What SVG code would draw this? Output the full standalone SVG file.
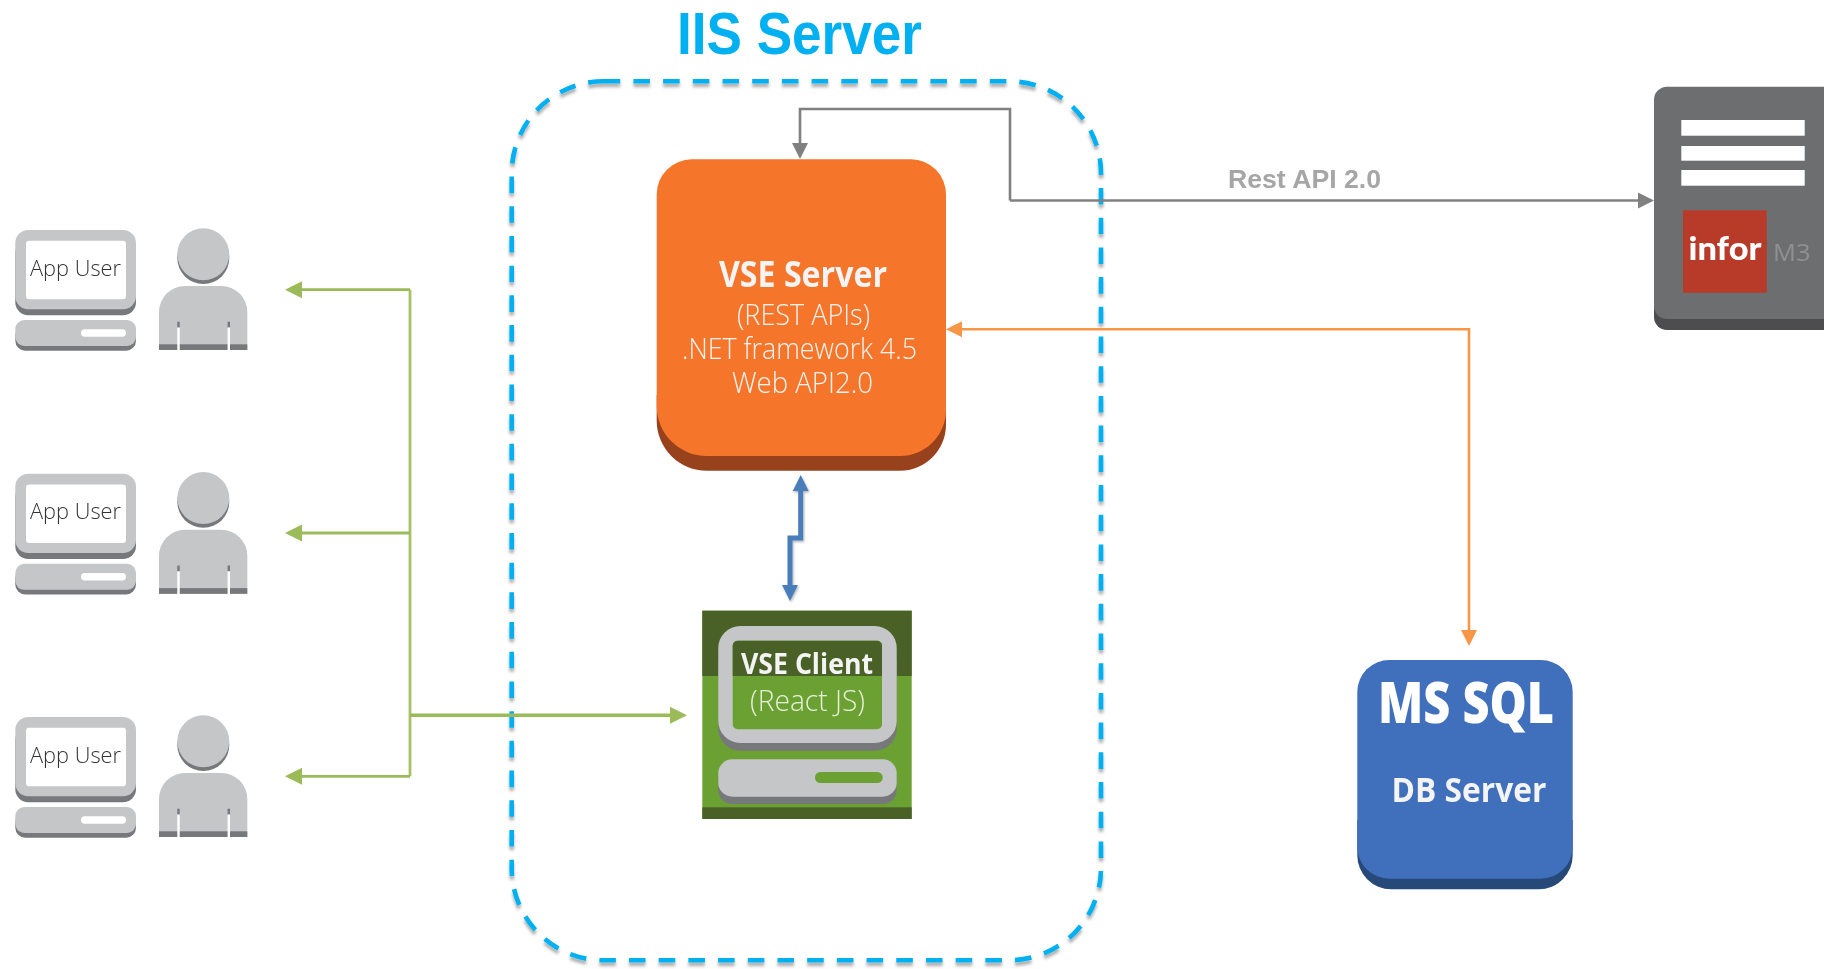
<svg xmlns="http://www.w3.org/2000/svg" xmlns:xlink="http://www.w3.org/1999/xlink" width="1824" height="969" viewBox="0 0 1824 969">
<style>
text{font-family:"Open Sans","Noto Sans",sans-serif;text-anchor:start}
.b{font-weight:700}
.l{font-weight:300}
.w{fill:#f4f4f4}
.conn{fill:none;stroke-linejoin:miter}
.pc{fill:#c5c6c8}
.sh{fill:#77787b}
.au{font-size:22.5px;font-weight:300;fill:#333}
</style>
<defs>
<filter id="soft" x="0" y="0" width="1824" height="969" filterUnits="userSpaceOnUse" primitiveUnits="userSpaceOnUse"><feGaussianBlur stdDeviation="0.55"/></filter>
<filter id="drop" x="-5%" y="-5%" width="110%" height="110%"><feDropShadow dx="0" dy="3.5" stdDeviation="1.6" flood-color="#000" flood-opacity="0.33"/></filter>
<filter id="drop2" x="760" y="460" width="70" height="160" filterUnits="userSpaceOnUse"><feDropShadow dx="1" dy="1.5" stdDeviation="1.2" flood-color="#000" flood-opacity="0.3"/></filter>
<marker id="ag" markerUnits="userSpaceOnUse" markerWidth="18" markerHeight="18" refX="2" refY="8.5" orient="auto"><path d="M0 0.5L16 8.5L0 16.5Z" fill="#808080"/></marker>
<marker id="ao" markerUnits="userSpaceOnUse" markerWidth="18" markerHeight="18" refX="2" refY="8.5" orient="auto-start-reverse"><path d="M0 0.5L16 8.5L0 16.5Z" fill="#f79646"/></marker>
<marker id="ab" markerUnits="userSpaceOnUse" markerWidth="18" markerHeight="20" refX="2" refY="8.5" orient="auto-start-reverse"><path d="M0 0.5L16 8.5L0 16.5Z" fill="#4a7ebb"/></marker>
<marker id="an" markerUnits="userSpaceOnUse" markerWidth="20" markerHeight="20" refX="2" refY="9" orient="auto"><path d="M0 0.5L17 9L0 17.5Z" fill="#9bbb59"/></marker>
<g id="user-icon">
<rect class="sh" x="15.3" y="240" width="120.7" height="75.3" rx="13"/>
<rect class="pc" x="15.3" y="230" width="120.7" height="79.3" rx="13"/>
<rect x="26" y="240.7" width="100" height="58.6" rx="3" fill="#fff"/>
<rect class="sh" x="15.3" y="325" width="120.7" height="25.7" rx="10"/>
<rect class="pc" x="15.3" y="320" width="120.7" height="26" rx="9"/>
<rect x="81" y="329.3" width="45" height="7.4" rx="3.7" fill="#fff"/>
<circle class="sh" cx="203.3" cy="258" r="26"/>
<circle class="pc" cx="203.3" cy="254.3" r="26"/>
<path class="pc" d="M159 350V312A26 26 0 0 1 185 286H221.3A26 26 0 0 1 247.3 312V350Z"/>
<rect class="sh" x="159" y="344.3" width="88.3" height="5.7"/>
<rect class="sh" x="177.3" y="321.7" width="2.4" height="6"/>
<rect class="sh" x="227.6" y="321.7" width="2.4" height="6"/>
<rect x="177.3" y="327.5" width="2.4" height="23" fill="#fff"/>
<rect x="227.6" y="327.5" width="2.4" height="23" fill="#fff"/>
</g>
</defs>
<rect width="1824" height="969" fill="#fff"/>
<g filter="url(#soft)">
<g id="iis-server">
<rect x="511.7" y="81.3" width="589.3" height="879" rx="92" fill="none" stroke="#00b0f0" stroke-width="4.6" stroke-dasharray="16.6 13.1" filter="url(#drop)"/>
<text class="b" x="677" y="53.5" font-size="59" fill="#00b0f0" style="font-family:'Liberation Sans',Arial,sans-serif" textLength="245" lengthAdjust="spacingAndGlyphs">IIS Server</text>
</g>
<g id="user-1"><use href="#user-icon"/><text class="au" x="30" y="275.5" textLength="91" lengthAdjust="spacingAndGlyphs">App User</text></g>
<g id="user-2" transform="translate(0 243.8)"><use href="#user-icon"/><text class="au" x="30" y="275.5" textLength="91" lengthAdjust="spacingAndGlyphs">App User</text></g>
<g id="user-3" transform="translate(0 487)"><use href="#user-icon"/><text class="au" x="30" y="275.5" textLength="91" lengthAdjust="spacingAndGlyphs">App User</text></g>
<g id="vse-server">
<path d="M656.7 395V421A50 50 0 0 0 706.7 470.7H900A46 46 0 0 0 946 424.7V395Z" fill="#97431f"/>
<path d="M692 159.3H911A35 35 0 0 1 946 194.3V410A46 46 0 0 1 900 456H706.7A50 50 0 0 1 656.7 406V194.3A35 35 0 0 1 692 159.3Z" fill="#f5762a"/>
<text class="b w" x="719" y="287" font-size="35" textLength="168" lengthAdjust="spacingAndGlyphs">VSE Server</text>
<text class="l w" x="737" y="325" font-size="29" textLength="133" lengthAdjust="spacingAndGlyphs">(REST APIs)</text>
<text class="l w" x="682" y="359" font-size="29" textLength="235" lengthAdjust="spacingAndGlyphs">.NET framework 4.5</text>
<text class="l w" x="732" y="393" font-size="29" textLength="141" lengthAdjust="spacingAndGlyphs">Web API2.0</text>
</g>
<g id="vse-client">
<rect x="702.3" y="610.7" width="209.4" height="208.3" fill="#6ba130"/>
<rect x="702.3" y="610.7" width="209.4" height="65.3" fill="#4a6127"/>
<rect x="702.3" y="807.3" width="209.4" height="11.7" fill="#4a6127"/>
<rect class="sh" x="718.3" y="640" width="178.4" height="110.7" rx="22"/>
<rect class="pc" x="718.3" y="626" width="178.4" height="117" rx="22"/>
<rect x="732.7" y="640.7" width="149.3" height="88.6" rx="5" fill="#6ba130"/>
<path d="M737.7 640.7H877A5 5 0 0 1 882 645.7V676H732.7V645.7A5 5 0 0 1 737.7 640.7Z" fill="#4a6127"/>
<rect class="sh" x="718.3" y="765" width="178.4" height="39" rx="14"/>
<rect class="pc" x="718.3" y="759.3" width="178.4" height="37.4" rx="14"/>
<rect x="815" y="772" width="67.7" height="11" rx="5.5" fill="#6ba130"/>
<text class="b w" x="741" y="673.7" font-size="29" textLength="132" lengthAdjust="spacingAndGlyphs">VSE Client</text>
<text class="l" x="750" y="710.7" font-size="29" fill="#e6efd8" textLength="115" lengthAdjust="spacingAndGlyphs">(React JS)</text>
</g>
<g id="ms-sql">
<path d="M1357.3 820V855A34 34 0 0 0 1391.3 889.3H1538.7A34 34 0 0 0 1572.7 855V820Z" fill="#264a7a"/>
<path d="M1389.3 660H1540.7A32 32 0 0 1 1572.7 692V846.7A32 32 0 0 1 1540.7 878.7H1389.3A32 32 0 0 1 1357.3 846.7V692A32 32 0 0 1 1389.3 660Z" fill="#3f6fbb"/>
<text class="b" x="1378" y="722.7" font-size="56" fill="#fff" style="font-weight:800" textLength="176" lengthAdjust="spacingAndGlyphs">MS SQL</text>
<text class="b w" x="1391.5" y="802.2" font-size="34" textLength="155" lengthAdjust="spacingAndGlyphs">DB Server</text>
</g>
<g id="infor-m3">
<rect x="1654" y="250" width="190" height="80" rx="13" fill="#4d4d4f"/>
<rect x="1654" y="86.7" width="190" height="232.3" rx="13" fill="#6d6e70"/>
<rect x="1681.3" y="120" width="123.4" height="15.7" fill="#fff"/>
<rect x="1681.3" y="146" width="123.4" height="14.7" fill="#fff"/>
<rect x="1681.3" y="170" width="123.4" height="15.7" fill="#fff"/>
<rect x="1683" y="210.3" width="83.7" height="82.4" fill="#b83a2a"/>
<text x="1688.5" y="260" font-size="33" fill="#fff" style="font-family:Lato,'Open Sans',sans-serif;font-weight:900" textLength="73" lengthAdjust="spacingAndGlyphs">infor</text>
<text x="1773" y="261" font-size="24" fill="#8f9193" textLength="37.5" lengthAdjust="spacingAndGlyphs">M3</text>
</g>
<g id="connectors">
<path class="conn" d="M1010 200.5H1640" stroke="#808080" stroke-width="2.6" marker-end="url(#ag)"/>
<path class="conn" d="M1010 200.5V109H800V145" stroke="#808080" stroke-width="2.6" marker-end="url(#ag)"/>
<path class="conn" d="M960 329.3H1469V632" stroke="#f79646" stroke-width="2.6" marker-start="url(#ao)" marker-end="url(#ao)"/>
<path class="conn" d="M800.7 489V538H790V587" stroke="#4a7ebb" stroke-width="5" marker-start="url(#ab)" marker-end="url(#ab)" filter="url(#drop2)"/>
<path class="conn" d="M410 289.7V776.3" stroke="#a5c266" stroke-width="2.8"/>
<path class="conn" d="M410 289.7H300" stroke="#9bbb59" stroke-width="2.8" marker-end="url(#an)"/>
<path class="conn" d="M410 533H300" stroke="#9bbb59" stroke-width="2.8" marker-end="url(#an)"/>
<path class="conn" d="M410 776.3H300" stroke="#9bbb59" stroke-width="2.8" marker-end="url(#an)"/>
<path class="conn" d="M410 715.3H672" stroke="#9bbb59" stroke-width="3.4" marker-end="url(#an)"/>
<text class="b" x="1228" y="187.7" font-size="25.5" fill="#a6a6a6" style="font-family:'Liberation Sans',Arial,sans-serif" textLength="153" lengthAdjust="spacingAndGlyphs">Rest API 2.0</text>
</g>
</g>
</svg>
